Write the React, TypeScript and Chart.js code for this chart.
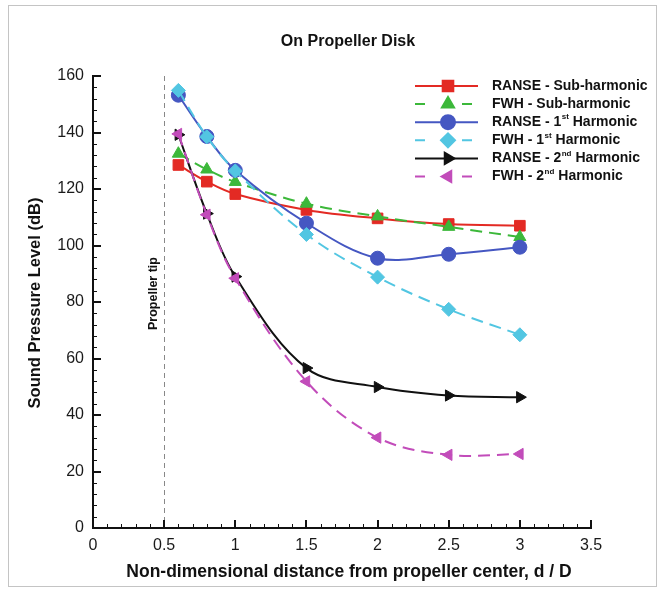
import React, { useEffect, useRef } from 'react';
import { Chart, registerables } from 'chart.js';
import { drawPoint } from 'chart.js/helpers';

Chart.register(...registerables);

const FONT = '"Liberation Sans", Arial, Helvetica, sans-serif';

// d / D positions
const xValues = [0.6, 0.8, 1.0, 1.5, 2.0, 2.5, 3.0];
// Sound pressure level (dB)
const ranseSub = [128.5, 122.6, 118.2, 112.6, 109.6, 107.6, 107.0];
const fwhSub = [132.5, 126.9, 122.5, 114.8, 110.3, 106.6, 103.0];
const ranse1st = [153.2, 138.6, 126.6, 107.9, 95.5, 96.9, 99.4];
const fwh1st = [154.9, 138.5, 126.4, 103.9, 88.8, 77.4, 68.4];
const ranse2nd = [139.2, 111.3, 89.0, 56.6, 49.9, 46.9, 46.3];
const fwh2nd = [139.5, 110.9, 88.4, 51.9, 32.0, 25.9, 26.2];

const yMin = 0;
const yMax = 160;
const yStep = 20;
const yMinorStep = 4;
const xMin = 0;
const xMax = 3.5;
const xStep = 0.5;
const xMinorStep = 0.1;
const propellerTip = 0.5;

const titleText = 'On Propeller Disk';
const yTitle = 'Sound Pressure Level (dB)';
const xTitle = 'Non-dimensional distance from propeller center, d / D';
const tipLabel = 'Propeller tip';

const seriesNames = [
  { pre: 'RANSE - Sub-harmonic', sup: '', post: '' },
  { pre: 'FWH - Sub-harmonic', sup: '', post: '' },
  { pre: 'RANSE - 1', sup: 'st', post: ' Harmonic' },
  { pre: 'FWH - 1', sup: 'st', post: ' Harmonic' },
  { pre: 'RANSE - 2', sup: 'nd', post: ' Harmonic' },
  { pre: 'FWH - 2', sup: 'nd', post: ' Harmonic' },
];

const seriesValues = [ranseSub, fwhSub, ranse1st, fwh1st, ranse2nd, fwh2nd];

const seriesStyle = [
  { color: '#e32a24', dash: [] as number[], pointStyle: 'rect', radius: 7.5, rotation: 0 },
  { color: '#3cb83a', dash: [12, 7], pointStyle: 'triangle', radius: 7, rotation: 0 },
  { color: '#4557c2', dash: [] as number[], pointStyle: 'circle', radius: 7, rotation: 0 },
  { color: '#52c6e2', dash: [12, 7], pointStyle: 'rectRot', radius: 7, rotation: 0 },
  { color: '#111111', dash: [] as number[], pointStyle: 'triangle', radius: 6.5, rotation: 90 },
  { color: '#c24cba', dash: [12, 7], pointStyle: 'triangle', radius: 6.5, rotation: -90 },
];

const decorPlugin = {
  id: 'decor',
  beforeDraw(chart: any) {
    const { ctx, width, height } = chart;
    ctx.save();
    ctx.fillStyle = '#ffffff';
    ctx.fillRect(0, 0, width, height);
    ctx.restore();
  },
  beforeDatasetsDraw(chart: any) {
    const { ctx, chartArea, scales } = chart;
    const x = scales.x;
    const y = scales.y;
    const px = Math.round(x.getPixelForValue(propellerTip)) + 0.5;
    ctx.save();
    ctx.strokeStyle = '#888888';
    ctx.lineWidth = 1;
    ctx.setLineDash([5, 4]);
    ctx.beginPath();
    ctx.moveTo(px, chartArea.top);
    ctx.lineTo(px, chartArea.bottom);
    ctx.stroke();
    ctx.setLineDash([]);
    ctx.translate(px - 11, y.getPixelForValue(83));
    ctx.rotate(-Math.PI / 2);
    ctx.fillStyle = '#111111';
    ctx.font = `bold 12.5px ${FONT}`;
    ctx.textAlign = 'center';
    ctx.textBaseline = 'middle';
    ctx.fillText(tipLabel, 0, 0);
    ctx.restore();
  },
  afterDatasetsDraw(chart: any) {
    const { ctx, chartArea, scales } = chart;
    const x = scales.x;
    const y = scales.y;
    const L = chartArea.left;
    const B = chartArea.bottom;
    ctx.save();
    ctx.strokeStyle = '#111111';
    ctx.setLineDash([]);
    // minor ticks
    ctx.lineWidth = 1;
    ctx.beginPath();
    for (let v = yMin; v <= yMax + 1e-9; v += yMinorStep) {
      const py = Math.round(y.getPixelForValue(v)) + 0.5;
      ctx.moveTo(L, py);
      ctx.lineTo(L + 4, py);
    }
    for (let i = 0; i <= Math.round((xMax - xMin) / xMinorStep); i++) {
      const v = xMin + i * xMinorStep;
      const pxx = Math.round(x.getPixelForValue(v)) + 0.5;
      ctx.moveTo(pxx, B);
      ctx.lineTo(pxx, B - 4);
    }
    ctx.stroke();
    // major ticks
    ctx.lineWidth = 2;
    ctx.beginPath();
    for (let v = yMin; v <= yMax + 1e-9; v += yStep) {
      const py = Math.round(y.getPixelForValue(v));
      ctx.moveTo(L, py);
      ctx.lineTo(L + 8, py);
    }
    for (let i = 0; i <= Math.round((xMax - xMin) / xStep); i++) {
      const v = xMin + i * xStep;
      const pxx = Math.round(x.getPixelForValue(v));
      ctx.moveTo(pxx, B);
      ctx.lineTo(pxx, B - 8);
    }
    ctx.stroke();
    // axis lines
    ctx.lineWidth = 2;
    ctx.beginPath();
    ctx.moveTo(L, chartArea.top - 1);
    ctx.lineTo(L, B);
    ctx.lineTo(chartArea.right + 1, B);
    ctx.stroke();
    ctx.restore();
  },
  afterDraw(chart: any) {
    const { ctx } = chart;
    ctx.save();
    // frame
    ctx.strokeStyle = '#c4c4c4';
    ctx.lineWidth = 1;
    ctx.strokeRect(8.5, 5.5, 648, 581);
    // titles
    ctx.fillStyle = '#111111';
    ctx.textAlign = 'center';
    ctx.textBaseline = 'middle';
    ctx.font = `bold 16px ${FONT}`;
    ctx.fillText(titleText, 348, 42);
    ctx.font = `bold 17.5px ${FONT}`;
    ctx.fillText(xTitle, 349, 572);
    ctx.save();
    ctx.translate(35, 303);
    ctx.rotate(-Math.PI / 2);
    ctx.font = `bold 16.5px ${FONT}`;
    ctx.fillText(yTitle, 0, 0);
    ctx.restore();

    // legend
    const lx0 = 415;
    const lx1 = 478;
    const mx = 448;
    const tx = 492;
    const ly0 = 86;
    const dy = 18.1;
    for (let i = 0; i < seriesNames.length; i++) {
      const st = seriesStyle[i];
      const yy = ly0 + i * dy;
      ctx.strokeStyle = st.color;
      ctx.fillStyle = st.color;
      ctx.lineWidth = 2;
      ctx.setLineDash(st.dash.length ? [10, 37] : []);
      ctx.beginPath();
      ctx.moveTo(lx0, yy);
      ctx.lineTo(lx1, yy);
      ctx.stroke();
      ctx.setLineDash([]);
      drawPoint(ctx, { pointStyle: st.pointStyle as any, radius: st.radius, rotation: st.rotation, borderWidth: 1 } as any, mx, yy);

      const nm = seriesNames[i];
      ctx.fillStyle = '#111111';
      ctx.textAlign = 'left';
      ctx.textBaseline = 'middle';
      ctx.font = `bold 14px ${FONT}`;
      let cx = tx;
      ctx.fillText(nm.pre, cx, yy);
      cx += ctx.measureText(nm.pre).width;
      if (nm.sup) {
        ctx.font = `bold 8px ${FONT}`;
        ctx.fillText(nm.sup, cx + 0.5, yy - 5);
        cx += ctx.measureText(nm.sup).width + 0.5;
        ctx.font = `bold 14px ${FONT}`;
        ctx.fillText(nm.post, cx, yy);
      }
    }
    ctx.restore();
  },
};

export default function App() {
  const canvasRef = useRef<HTMLCanvasElement | null>(null);

  useEffect(() => {
    const canvas = canvasRef.current;
    if (!canvas) return;
    const datasets = seriesValues.map((vals, i) => {
      const st = seriesStyle[i];
      return {
        label: seriesNames[i].pre + seriesNames[i].sup + seriesNames[i].post,
        data: xValues.map((xv, j) => ({ x: xv, y: vals[j] })),
        borderColor: st.color,
        backgroundColor: st.color,
        borderWidth: 2,
        borderDash: st.dash,
        pointStyle: st.pointStyle,
        pointRadius: st.radius,
        pointRotation: st.rotation,
        pointBorderWidth: 1,
        pointBorderColor: st.color,
        pointBackgroundColor: st.color,
        tension: 0.35,
        fill: false,
        order: seriesValues.length - i,
      };
    });

    const chart = new Chart(canvas, {
      type: 'line',
      data: { datasets } as any,
      options: {
        responsive: false,
        animation: false,
        devicePixelRatio: 1,
        layout: { padding: { top: 76, right: 71, left: 0, bottom: 0 } },
        plugins: {
          legend: { display: false },
          title: { display: false },
          tooltip: { enabled: false },
        },
        scales: {
          x: {
            type: 'linear',
            min: xMin,
            max: xMax,
            grid: { display: false, drawTicks: false },
            border: { display: false },
            ticks: {
              stepSize: xStep,
              padding: 8,
              color: '#1a1a1a',
              font: { family: FONT, size: 16 },
              maxRotation: 0,
              callback: (v: any) => String(Math.round(Number(v) * 10) / 10),
            },
            afterFit(scale: any) {
              scale.height = 63;
            },
          },
          y: {
            type: 'linear',
            min: yMin,
            max: yMax,
            grid: { display: false, drawTicks: false },
            border: { display: false },
            ticks: {
              stepSize: yStep,
              padding: 9,
              color: '#1a1a1a',
              font: { family: FONT, size: 16 },
            },
            afterFit(scale: any) {
              scale.width = 93;
            },
          },
        },
      } as any,
      plugins: [decorPlugin],
    });
    return () => chart.destroy();
  }, []);

  return (
    <div style={{ position: 'fixed', left: 0, top: 0, width: 662, height: 591, background: '#fff' }}>
      <canvas ref={canvasRef} width={662} height={591} style={{ display: 'block', width: 662, height: 591 }} />
    </div>
  );
}
